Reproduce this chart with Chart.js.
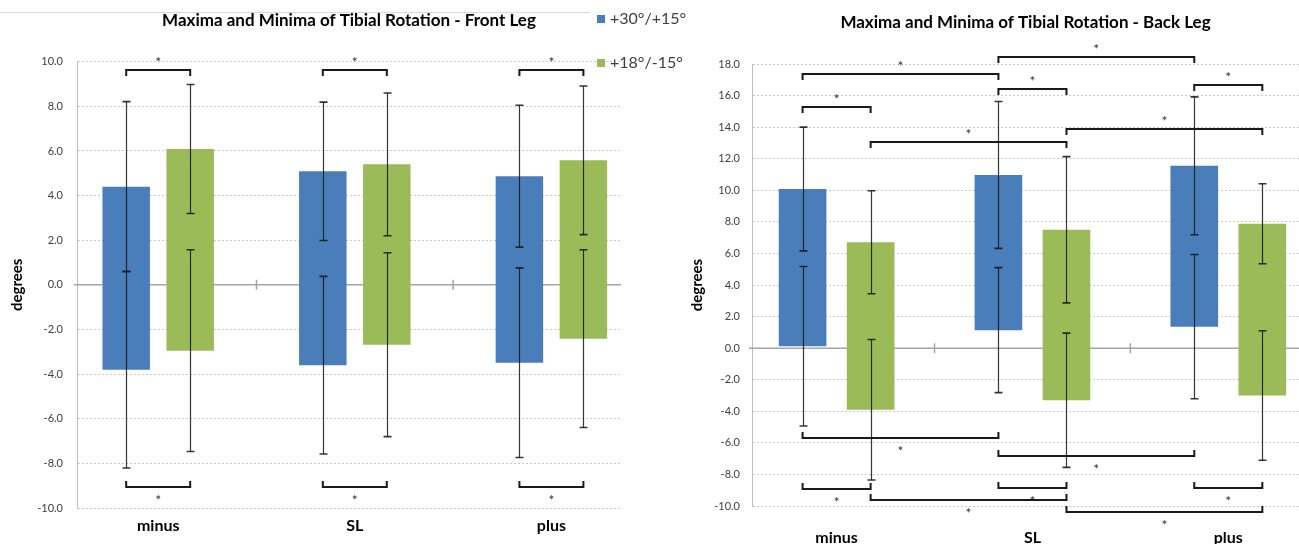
<!DOCTYPE html>
<html>
<head>
<meta charset="utf-8">
<title>Maxima and Minima of Tibial Rotation</title>
<script src="https://cdn.jsdelivr.net/npm/chart.js"></script>
<style>
  html, body { margin: 0; padding: 0; background: #fff; }
  body { width: 1299px; height: 544px; position: relative; overflow: hidden; font-family: Lato, 'Open Sans', sans-serif; }
  canvas { position: absolute; top: 0; }
  #frontChart { left: 0; }
  #backChart { left: 680px; }
  .top-rule { position: absolute; left: 0; top: 12px; width: 590px; height: 1px; background: #d9d9d9; }
  #legend { position: absolute; left: 597px; top: 0; font-size: 16px; color: #404040; }
  #legend .item { position: absolute; left: 0; white-space: nowrap; line-height: 20px; }
  #legend .box { display: inline-block; width: 8px; height: 8px; margin-right: 5px; vertical-align: 1px; }
</style>
</head>
<body>
<div class="top-rule"></div>
<canvas id="frontChart" width="645" height="544"></canvas>
<canvas id="backChart" width="619" height="544"></canvas>
<div id="legend"></div>
<script>
// ---- data (degrees) ----
const categories = ['minus', 'SL', 'plus'];
const seriesNames = ['+30°/+15°', '+18°/-15°'];
const seriesColors = ['#4a7ebb', '#9bbb59'];

// Front leg: mean maxima / minima and their SDs
const frontBlueMax = [4.40, 5.09, 4.87];
const frontBlueMaxSd = [3.81, 3.10, 3.18];
const frontBlueMin = [-3.80, -3.60, -3.49];
const frontBlueMinSd = [4.41, 3.98, 4.25];
const frontGreenMax = [6.09, 5.40, 5.58];
const frontGreenMaxSd = [2.89, 3.20, 3.33];
const frontGreenMin = [-2.95, -2.68, -2.41];
const frontGreenMinSd = [4.52, 4.12, 3.98];

// Back leg
const backBlueMax = [10.08, 10.97, 11.55];
const backBlueMaxSd = [3.92, 4.65, 4.37];
const backBlueMin = [0.12, 1.14, 1.36];
const backBlueMinSd = [5.05, 3.96, 4.57];
const backGreenMax = [6.71, 7.50, 7.88];
const backGreenMaxSd = [3.26, 4.63, 2.53];
const backGreenMin = [-3.90, -3.30, -3.00];
const backGreenMinSd = [4.45, 4.25, 4.10];

// significance brackets: [category A, series A, category B, series B, level]
const frontBracketsTop = [[0, 0, 0, 1, 9.65], [1, 0, 1, 1, 9.65], [2, 0, 2, 1, 9.65]];
const frontBracketsBottom = [[0, 0, 0, 1, -9.07], [1, 0, 1, 1, -9.07], [2, 0, 2, 1, -9.07]];
const backBracketsTop = [
    [0, 0, 1, 0, 17.37], [1, 0, 2, 0, 18.42], [1, 0, 1, 1, 16.43], [2, 0, 2, 1, 16.65],
    [0, 0, 0, 1, 15.29], [1, 1, 2, 1, 13.87], [0, 1, 1, 1, 13.03]
];
const backBracketsBottom = [
    [0, 0, 1, 0, -5.71], [1, 0, 2, 0, -6.81], [0, 0, 0, 1, -8.93], [1, 0, 1, 1, -8.89],
    [2, 0, 2, 1, -8.89], [0, 1, 1, 1, -9.63], [1, 1, 2, 1, -10.41]
];

const FONT = 'Lato, "Open Sans", sans-serif';

// legend (html, shared by both panels)
const legendEl = document.getElementById('legend');
seriesNames.forEach((name, i) => {
    const item = document.createElement('div');
    item.className = 'item';
    item.style.top = (8 + i * 44) + 'px';
    item.innerHTML = '<span class="box" style="background:' + seriesColors[i] + '"></span>' + name;
    legendEl.appendChild(item);
});

// zero line with small separators between the groups
const zeroLinePlugin = {
    id: 'zeroLine',
    beforeDatasetsDraw(chart) {
        const ctx = chart.ctx;
        const area = chart.chartArea;
        const y0 = chart.scales.y.getPixelForValue(0);
        ctx.save();
        ctx.strokeStyle = '#a6a6a6';
        ctx.lineWidth = 1.5;
        ctx.beginPath();
        ctx.moveTo(area.left - 3, y0);
        ctx.lineTo(area.right, y0);
        for (let i = 0; i < categories.length - 1; i++) {
            const x = chart.scales.x.getPixelForValue(i + 0.5);
            ctx.moveTo(x, y0 - 5);
            ctx.lineTo(x, y0 + 5);
        }
        ctx.stroke();
        ctx.restore();
    }
};

// SD whiskers at the maximum and at the minimum of every bar
const errorBarPlugin = {
    id: 'errorBars',
    afterDatasetsDraw(chart, args, opts) {
        const ctx = chart.ctx;
        const yScale = chart.scales.y;
        ctx.save();
        ctx.strokeStyle = 'rgba(20,20,20,0.85)';
        opts.sets.forEach((s, d) => {
            const meta = chart.getDatasetMeta(d);
            meta.data.forEach((bar, i) => {
                const x = Math.round(bar.x) + 0.5;
                [[s.max[i], s.maxSd[i]], [s.min[i], s.minSd[i]]].forEach(([m, sd]) => {
                    const yHi = yScale.getPixelForValue(m + sd);
                    const yLo = yScale.getPixelForValue(m - sd);
                    ctx.lineWidth = 1.2;
                    ctx.beginPath();
                    ctx.moveTo(x, yHi);
                    ctx.lineTo(x, yLo);
                    ctx.stroke();
                    ctx.lineWidth = 1.6;
                    ctx.beginPath();
                    ctx.moveTo(x - 4, yHi);
                    ctx.lineTo(x + 4, yHi);
                    ctx.moveTo(x - 4, yLo);
                    ctx.lineTo(x + 4, yLo);
                    ctx.stroke();
                });
            });
        });
        ctx.restore();
    }
};

// significance brackets with asterisks
const bracketPlugin = {
    id: 'brackets',
    afterDraw(chart, args, opts) {
        const ctx = chart.ctx;
        const yScale = chart.scales.y;
        ctx.save();
        ctx.strokeStyle = '#1a1a1a';
        ctx.lineWidth = 2;
        ctx.fillStyle = '#333';
        ctx.font = '14px ' + FONT;
        ctx.textAlign = 'center';
        ctx.textBaseline = 'middle';
        const draw = (list, dir) => {
            list.forEach(([ca, sa, cb, sb, level]) => {
                const xa = chart.getDatasetMeta(sa).data[ca].x;
                const xb = chart.getDatasetMeta(sb).data[cb].x;
                const y = Math.round(yScale.getPixelForValue(level));
                ctx.beginPath();
                ctx.moveTo(xa, y + 6 * dir);
                ctx.lineTo(xa, y);
                ctx.lineTo(xb, y);
                ctx.lineTo(xb, y + 6 * dir);
                ctx.stroke();
                ctx.fillText('*', (xa + xb) / 2, y - (dir > 0 ? 8 : -13));
            });
        };
        draw(opts.top, 1);
        draw(opts.bottom, -1);
        ctx.restore();
    }
};

function makeChart(id, p) {
    return new Chart(document.getElementById(id), {
        type: 'bar',
        data: {
            datasets: p.sets.map((s, d) => ({
                label: seriesNames[d],
                data: categories.map((c, i) => ({ x: i, y: [s.min[i], s.max[i]] })),
                backgroundColor: seriesColors[d],
                borderWidth: 0,
                barPercentage: p.barPct,
                categoryPercentage: p.catPct
            }))
        },
        options: {
            responsive: false,
            animation: false,
            devicePixelRatio: 1,
            layout: { padding: { left: 0, right: p.padRight, top: 0, bottom: 0 } },
            plugins: {
                legend: { display: false },
                tooltip: { enabled: false },
                title: {
                    display: true,
                    fullSize: false,
                    text: p.title,
                    color: '#000',
                    font: { family: FONT, size: 17, weight: 'bold' },
                    padding: { top: p.titleTop, bottom: p.titleBottom }
                },
                errorBars: { sets: p.sets },
                brackets: { top: p.top, bottom: p.bottom }
            },
            scales: {
                x: {
                    type: 'linear',
                    offset: false,
                    min: p.xMin,
                    max: p.xMax,
                    afterBuildTicks: s => { s.ticks = categories.map((c, i) => ({ value: i })); },
                    afterFit: s => { s.height = p.xHeight; },
                    grid: { display: false, drawTicks: false, offset: false },
                    border: { display: false },
                    ticks: {
                        callback: v => categories[v],
                        color: '#000',
                        padding: p.xPad,
                        maxRotation: 0,
                        font: { family: FONT, size: 16, weight: 'bold' }
                    }
                },
                y: {
                    min: p.yMin,
                    max: p.yMax,
                    afterFit: s => { s.width = p.yWidth; },
                    grid: { color: '#c8c8c8', lineWidth: 1, drawTicks: false },
                    border: { display: true, color: '#bfbfbf', width: 1, dash: [2, 2] },
                    ticks: {
                        stepSize: 2,
                        padding: p.yPad,
                        color: '#404040',
                        callback: v => v.toFixed(1),
                        font: { family: FONT, size: 11 }
                    },
                    title: {
                        display: true,
                        text: 'degrees',
                        color: '#000',
                        font: { family: FONT, size: 15, weight: 'bold' },
                        padding: { top: 8, bottom: 0 }
                    }
                }
            }
        },
        plugins: [zeroLinePlugin, errorBarPlugin, bracketPlugin]
    });
}

makeChart('frontChart', {
    title: 'Maxima and Minima of Tibial Rotation - Front Leg',
    sets: [
        { max: frontBlueMax, maxSd: frontBlueMaxSd, min: frontBlueMin, minSd: frontBlueMinSd },
        { max: frontGreenMax, maxSd: frontGreenMaxSd, min: frontGreenMin, minSd: frontGreenMinSd }
    ],
    top: frontBracketsTop,
    bottom: frontBracketsBottom,
    yMin: -10, yMax: 10,
    xMin: -0.413, xMax: 2.354,
    catPct: 0.651, barPct: 0.742,
    padRight: 24, yWidth: 77, yPad: 14,
    xHeight: 36, xPad: 8,
    titleTop: 10, titleBottom: 31.3
});

makeChart('backChart', {
    title: 'Maxima and Minima of Tibial Rotation - Back Leg',
    sets: [
        { max: backBlueMax, maxSd: backBlueMaxSd, min: backBlueMin, minSd: backBlueMinSd },
        { max: backGreenMax, maxSd: backGreenMaxSd, min: backGreenMin, minSd: backGreenMinSd }
    ],
    top: backBracketsTop,
    bottom: backBracketsBottom,
    yMin: -10, yMax: 18,
    xMin: -0.432, xMax: 2.361,
    catPct: 0.695, barPct: 0.70,
    padRight: 0, yWidth: 72, yPad: 12,
    xHeight: 38, xPad: 22,
    titleTop: 12, titleBottom: 31.6
});
</script>
</body>
</html>
